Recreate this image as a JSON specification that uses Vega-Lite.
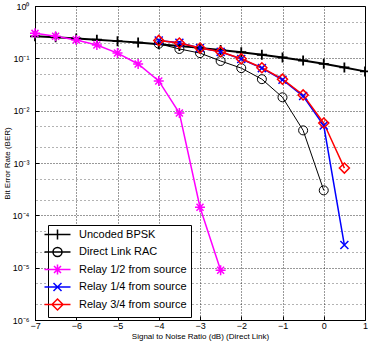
{
  "$schema": "https://vega.github.io/schema/vega-lite/v6.json",
  "width": 330,
  "height": 314,
  "autosize": {"type": "none"},
  "padding": {"left": 35, "top": 6, "right": 3, "bottom": 22},
  "background": "white",
  "config": {
    "view": {"stroke": "black", "strokeWidth": 1},
    "font": "Liberation Sans",
    "legend": {
      "fillColor": "white",
      "strokeColor": "black",
      "padding": 4,
      "symbolSize": 4,
      "symbolStrokeWidth": 1.5,
      "labelFontSize": 11,
      "labelColor": "black",
      "labelOffset": 16,
      "rowPadding": 1.5
    }
  },
  "data": {
    "values": [
      {"series": "Uncoded BPSK", "snr": -7, "ber": 0.2638},
      {"series": "Uncoded BPSK", "snr": -6.5, "ber": 0.2517},
      {"series": "Uncoded BPSK", "snr": -6, "ber": 0.2392},
      {"series": "Uncoded BPSK", "snr": -5.5, "ber": 0.2264},
      {"series": "Uncoded BPSK", "snr": -5, "ber": 0.2132},
      {"series": "Uncoded BPSK", "snr": -4.5, "ber": 0.1998},
      {"series": "Uncoded BPSK", "snr": -4, "ber": 0.1861},
      {"series": "Uncoded BPSK", "snr": -3.5, "ber": 0.1723},
      {"series": "Uncoded BPSK", "snr": -3, "ber": 0.1584},
      {"series": "Uncoded BPSK", "snr": -2.5, "ber": 0.1445},
      {"series": "Uncoded BPSK", "snr": -2, "ber": 0.1306},
      {"series": "Uncoded BPSK", "snr": -1.5, "ber": 0.117},
      {"series": "Uncoded BPSK", "snr": -1, "ber": 0.1038},
      {"series": "Uncoded BPSK", "snr": -0.5, "ber": 0.0909},
      {"series": "Uncoded BPSK", "snr": 0, "ber": 0.0786},
      {"series": "Uncoded BPSK", "snr": 0.5, "ber": 0.0671},
      {"series": "Uncoded BPSK", "snr": 1, "ber": 0.0563},
      {"series": "Direct Link RAC", "snr": -4, "ber": 0.19},
      {"series": "Direct Link RAC", "snr": -3.5, "ber": 0.151},
      {"series": "Direct Link RAC", "snr": -3, "ber": 0.126},
      {"series": "Direct Link RAC", "snr": -2.5, "ber": 0.089},
      {"series": "Direct Link RAC", "snr": -2, "ber": 0.065},
      {"series": "Direct Link RAC", "snr": -1.5, "ber": 0.04},
      {"series": "Direct Link RAC", "snr": -1, "ber": 0.018},
      {"series": "Direct Link RAC", "snr": -0.5, "ber": 0.0042},
      {"series": "Direct Link RAC", "snr": 0, "ber": 0.0003},
      {"series": "Relay 1/2 from source", "snr": -7, "ber": 0.3},
      {"series": "Relay 1/2 from source", "snr": -6.5, "ber": 0.265},
      {"series": "Relay 1/2 from source", "snr": -6, "ber": 0.225},
      {"series": "Relay 1/2 from source", "snr": -5.5, "ber": 0.18},
      {"series": "Relay 1/2 from source", "snr": -5, "ber": 0.126},
      {"series": "Relay 1/2 from source", "snr": -4.5, "ber": 0.078},
      {"series": "Relay 1/2 from source", "snr": -4, "ber": 0.037},
      {"series": "Relay 1/2 from source", "snr": -3.5, "ber": 0.009},
      {"series": "Relay 1/2 from source", "snr": -3, "ber": 0.000143},
      {"series": "Relay 1/2 from source", "snr": -2.5, "ber": 0.0000089},
      {"series": "Relay 1/4 from source", "snr": -4, "ber": 0.22},
      {"series": "Relay 1/4 from source", "snr": -3.5, "ber": 0.198},
      {"series": "Relay 1/4 from source", "snr": -3, "ber": 0.158},
      {"series": "Relay 1/4 from source", "snr": -2.5, "ber": 0.133},
      {"series": "Relay 1/4 from source", "snr": -2, "ber": 0.097},
      {"series": "Relay 1/4 from source", "snr": -1.5, "ber": 0.065},
      {"series": "Relay 1/4 from source", "snr": -1, "ber": 0.039},
      {"series": "Relay 1/4 from source", "snr": -0.5, "ber": 0.019},
      {"series": "Relay 1/4 from source", "snr": 0, "ber": 0.0052},
      {"series": "Relay 1/4 from source", "snr": 0.5, "ber": 0.000027},
      {"series": "Relay 3/4 from source", "snr": -4, "ber": 0.22},
      {"series": "Relay 3/4 from source", "snr": -3.5, "ber": 0.196},
      {"series": "Relay 3/4 from source", "snr": -3, "ber": 0.157},
      {"series": "Relay 3/4 from source", "snr": -2.5, "ber": 0.134},
      {"series": "Relay 3/4 from source", "snr": -2, "ber": 0.098},
      {"series": "Relay 3/4 from source", "snr": -1.5, "ber": 0.066},
      {"series": "Relay 3/4 from source", "snr": -1, "ber": 0.04},
      {"series": "Relay 3/4 from source", "snr": -0.5, "ber": 0.02},
      {"series": "Relay 3/4 from source", "snr": 0, "ber": 0.0058},
      {"series": "Relay 3/4 from source", "snr": 0.5, "ber": 0.0008}
    ]
  },
  "layer": [
    {
      "mark": {"type": "line"},
      "encoding": {
        "x": {
          "field": "snr",
          "type": "quantitative",
          "scale": {"domain": [-7, 1], "nice": false, "zero": false},
          "title": "Signal to Noise Ratio (dB) (Direct Link)",
          "axis": {
            "values": [-7, -6, -5, -4, -3, -2, -1, 0, 1],
            "grid": true,
            "gridColor": "black",
            "gridDash": [1, 2],
            "gridOpacity": 0.8,
            "domainColor": "black",
            "tickColor": "black",
            "tickSize": -4,
            "labelPadding": 5,
            "labelFlush": false,
            "labelFontSize": 9,
            "labelColor": "black",
            "titleFontSize": 8,
            "titleFontWeight": "normal",
            "titleColor": "black",
            "titlePadding": 2
          }
        },
        "y": {
          "field": "ber",
          "type": "quantitative",
          "scale": {"type": "log", "domain": [0.000001, 1], "nice": false},
          "title": "Bit Error Rate (BER)",
          "axis": {
            "values": [1, 0.1, 0.01, 0.001, 0.0001, 0.00001, 0.000001],
            "labelExpr": "datum.value >= 0.5 ? '10⁰' : datum.value >= 0.05 ? '10⁻¹' : datum.value >= 0.005 ? '10⁻²' : datum.value >= 0.0005 ? '10⁻³' : datum.value >= 0.00005 ? '10⁻⁴' : datum.value >= 0.000005 ? '10⁻⁵' : '10⁻⁶'",
            "grid": true,
            "gridColor": "black",
            "gridDash": [1, 2],
            "gridOpacity": 0.8,
            "domainColor": "black",
            "tickColor": "black",
            "tickSize": -4,
            "labelPadding": 10,
            "labelFlush": false,
            "labelFontSize": 9,
            "labelColor": "black",
            "titleFontSize": 8,
            "titleFontWeight": "normal",
            "titleColor": "black",
            "titlePadding": 1
          }
        },
        "detail": {"field": "series", "type": "nominal"},
        "color": {
          "condition": [
            {"test": "datum.series == 'Relay 1/2 from source'", "value": "#ff00ff"},
            {"test": "datum.series == 'Relay 1/4 from source'", "value": "#0000ff"},
            {"test": "datum.series == 'Relay 3/4 from source'", "value": "#ff0000"}
          ],
          "value": "#000000"
        },
        "strokeWidth": {
          "condition": [
            {"test": "datum.series == 'Uncoded BPSK'", "value": 2},
            {"test": "datum.series == 'Direct Link RAC'", "value": 1}
          ],
          "value": 1.5
        }
      }
    },
    {
      "mark": {"type": "point", "filled": false, "opacity": 1},
      "encoding": {
        "x": {"field": "snr", "type": "quantitative"},
        "y": {
          "field": "ber",
          "type": "quantitative",
          "axis": {
            "orient": "right",
            "values": [0.5, 0.2, 0.05, 0.02, 0.005, 0.002, 0.0005, 0.0002, 0.00005, 0.00002, 0.000005, 0.000002],
            "grid": true,
            "gridColor": "black",
            "gridDash": [1, 3],
            "gridOpacity": 0.6,
            "labels": false,
            "ticks": false,
            "domain": false,
            "title": null
          }
        },
        "color": {
          "condition": [
            {"test": "datum.series == 'Relay 1/2 from source'", "value": "#ff00ff"},
            {"test": "datum.series == 'Relay 1/4 from source'", "value": "#0000ff"},
            {"test": "datum.series == 'Relay 3/4 from source'", "value": "#ff0000"}
          ],
          "value": "#000000"
        },
        "shape": {
          "condition": [
            {"test": "datum.series == 'Uncoded BPSK'", "value": "M-1,0H1M0,-1V1"},
            {"test": "datum.series == 'Direct Link RAC'", "value": "circle"},
            {"test": "datum.series == 'Relay 1/2 from source'", "value": "M-1,0H1M0,-1V1M-0.7,-0.7L0.7,0.7M-0.7,0.7L0.7,-0.7"},
            {"test": "datum.series == 'Relay 1/4 from source'", "value": "M-0.8,-0.8L0.8,0.8M-0.8,0.8L0.8,-0.8"}
          ],
          "value": "diamond"
        },
        "size": {
          "condition": [
            {"test": "datum.series == 'Uncoded BPSK'", "value": 100},
            {"test": "datum.series == 'Direct Link RAC'", "value": 81}
          ],
          "value": 100
        },
        "strokeWidth": {
          "condition": [
            {"test": "datum.series == 'Uncoded BPSK'", "value": 1.8},
            {"test": "datum.series == 'Direct Link RAC'", "value": 1}
          ],
          "value": 1.5
        }
      }
    },
    {
      "transform": [{"filter": "false"}],
      "mark": {"type": "point", "filled": false, "opacity": 1, "strokeWidth": 1.5},
      "encoding": {
        "x": {"field": "snr", "type": "quantitative"},
        "y": {"field": "ber", "type": "quantitative", "axis": null},
        "color": {
          "field": "series",
          "type": "nominal",
          "scale": {
            "domain": ["Uncoded BPSK", "Direct Link RAC", "Relay 1/2 from source", "Relay 1/4 from source", "Relay 3/4 from source"],
            "range": ["#000000", "#000000", "#ff00ff", "#0000ff", "#ff0000"]
          },
          "legend": {"orient": "none", "legendX": 13, "legendY": 219, "title": null}
        },
        "shape": {
          "field": "series",
          "type": "nominal",
          "scale": {
            "domain": ["Uncoded BPSK", "Direct Link RAC", "Relay 1/2 from source", "Relay 1/4 from source", "Relay 3/4 from source"],
            "range": [
              "M-13,0H13M0,-5V5",
              "M-13,0H13M4.5,0A4.5,4.5 0 1,1 -4.5,0A4.5,4.5 0 1,1 4.5,0",
              "M-13,0H13M0,-5V5M-3.5,-3.5L3.5,3.5M-3.5,3.5L3.5,-3.5",
              "M-13,0H13M-4,-4L4,4M-4,4L4,-4",
              "M-13,0H13M0,-5.5L5.5,0L0,5.5L-5.5,0Z"
            ]
          },
          "legend": {"orient": "none", "legendX": 13, "legendY": 219, "title": null}
        }
      }
    }
  ],
  "resolve": {"axis": {"y": "independent"}}
}
